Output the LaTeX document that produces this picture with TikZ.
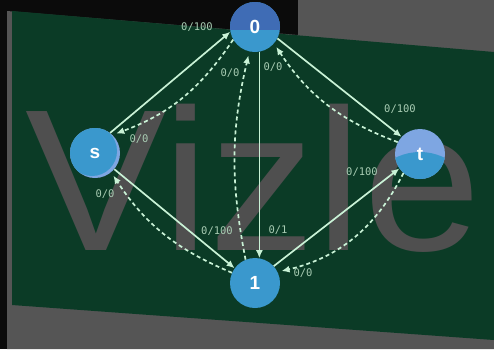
\documentclass[tikz,border=0pt]{standalone}
\usepackage{fontspec}
\usetikzlibrary{arrows.meta}
\newfontfamily\markfont{Liberation Sans}
\newfontfamily\wordfont[FakeStretch=1.05]{Liberation Sans}
\newfontfamily\flowfont{DejaVu Sans Mono}
\definecolor{nearblack}{HTML}{0B0B0B}
\definecolor{backgrey}{HTML}{555555}
\definecolor{slidegreen}{HTML}{0B3B26}
\definecolor{markgrey}{HTML}{4F4F4F}
\definecolor{nodeblue}{HTML}{3A98CD}
\definecolor{topblue}{HTML}{3F6CB5}
\definecolor{lavender}{HTML}{7EA6E2}
\definecolor{edgemint}{HTML}{C9F2D6}
\definecolor{labelmint}{HTML}{A8CCB3}

\begin{document}
\begin{tikzpicture}[x=1pt, y=-1pt,
    vertex/.style={circle, minimum size=50pt, inner sep=0pt, fill=nodeblue,
        text=white, font=\markfont\bfseries\fontsize{19}{19}\selectfont},
    flow/.style={draw=edgemint, line width=1.7pt, -{Latex[length=8pt,width=7pt]}},
    residual/.style={flow, dash pattern=on 4pt off 3pt, shorten >=4pt},
    flowlabel/.style={inner sep=0pt, text=labelmint, font=\flowfont\fontsize{10.5}{11}\selectfont}]
    \useasboundingbox (0,0) rectangle (494,349);
    \fill[nearblack] (0,0) rectangle (494,349);
    \fill[backgrey] (7,11) -- (298,35) -- (298,0) -- (494,0) -- (494,349) -- (7,349) -- cycle;
    \fill[slidegreen] (12,11) -- (494,52) -- (494,340) -- (12,305) -- cycle;
    \node[anchor=base west, inner sep=0pt, text=markgrey,
        font=\wordfont\fontsize{202}{202}\selectfont] (mark) at (25,250) {Vizle};

    \node[vertex, fill=nodeblue, path picture={\fill[topblue]
        ([yshift=-3pt]path picture bounding box.west) rectangle (path picture bounding box.north east);}]
        (0) at (255,27) {0};
    \node[vertex, fill=lavender, path picture={\fill[nodeblue]
        ([xshift=-3pt,yshift=2pt]path picture bounding box.center) circle[radius=25pt];}]
        (s) at (95,153) {s};
    \node[vertex, fill=lavender, path picture={\fill[nodeblue]
        ([yshift=-53pt]path picture bounding box.center) circle[radius=55pt];}]
        (t) at (420,154) {t};
    \node[vertex] (1) at (255,283) {1};

    \draw[flow] (s.53) -- (0.191);
    \draw[flow] (0.-80) -- (1.80);
    \draw[flow] (0.-27) -- (t.137);
    \draw[flow] (s.-40) -- (1.144);
    \draw[flow] (1.42) -- (t.215);

    \draw[residual] (0.210) to[bend left=18] (s.46);
    \draw[residual] (1.112) to[bend left=12] (0.257);
    \draw[residual] (t.152) to[bend left=18] (0.-41);
    \draw[residual] (1.156) to[bend left=17] (s.-50);
    \draw[residual] (t.229) to[bend left=25] (1.26);

    \node[flowlabel] (l-s0) at (197,27) {0/100};
    \node[flowlabel] (l-10) at (230,73) {0/0};
    \node[flowlabel] (l-t0) at (273,67) {0/0};
    \node[flowlabel] (l-0t) at (400,109) {0/100};
    \node[flowlabel] (l-0s) at (139,139) {0/0};
    \node[flowlabel] (l-1s) at (105,194) {0/0};
    \node[flowlabel] (l-s1) at (217,231) {0/100};
    \node[flowlabel] (l-01) at (278,230) {0/1};
    \node[flowlabel] (l-1t) at (362,172) {0/100};
    \node[flowlabel] (l-t1) at (303,273) {0/0};
\end{tikzpicture}
\end{document}
